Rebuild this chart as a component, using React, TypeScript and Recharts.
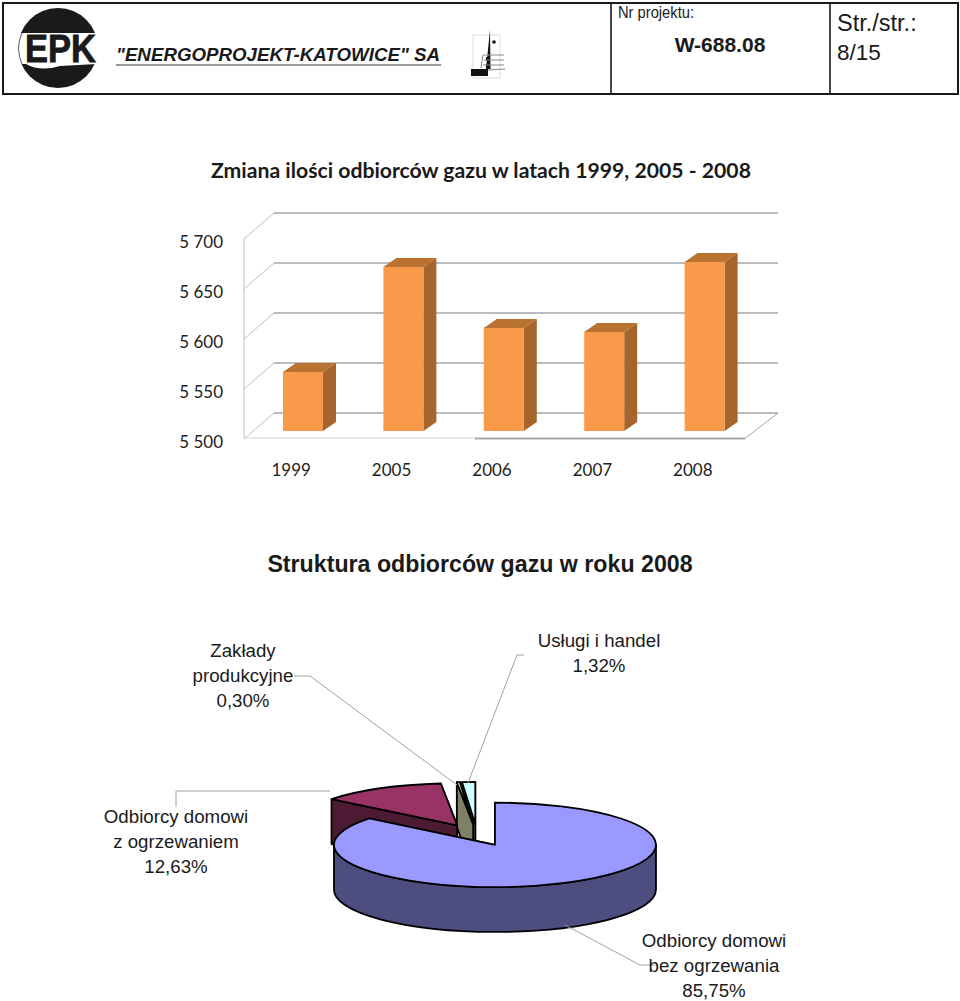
import React from 'react';
import { BarChart, Bar, XAxis, YAxis, CartesianGrid, PieChart, Pie } from 'recharts';

const years = ['1999', '2005', '2006', '2007', '2008'];
const customers = [5559, 5664, 5603, 5599, 5669];
const yTicks = [5500, 5550, 5600, 5650, 5700];

// Pie is drawn back to front, going counter-clockwise from 12 o'clock
const groupNames = [
  ['Usługi i handel'],
  ['Zakłady', 'produkcyjne'],
  ['Odbiorcy domowi', 'z ogrzewaniem'],
  ['Odbiorcy domowi', 'bez ogrzewania'],
];
const shares = [1.32, 0.3, 12.63, 85.75];

const barData = years.map((year, i) => ({ year, value: customers[i] }));
const pieData = groupNames.map((lines, i) => ({ lines, value: shares[i] }));

const topColors = ['#ccffff', '#ffffcc', '#993366', '#9999ff'];
const wallColors = ['#668080', '#808066', '#4d1a33', '#4d4d80'];

// label centre x, first baseline y and leader line, in chart coordinates
const PIE_TOP = 600;
const labelSpots = [
  { x: 599, y: 47, line: '524,55 517,55 468,183' },
  { x: 243, y: 57, line: '294,76 310,76 457,185' },
  { x: 176, y: 223, line: '176,207 176,191 330,191' },
  { x: 714, y: 347, line: '565,325 640,365 655,365' },
];

const TILT = 0.262;
const DEPTH = 45;
const EXPLODE = 41.5;
const rad = (deg: number) => (deg * Math.PI) / 180;

const Slice3D = (props: any) => {
  const { cx, cy, outerRadius: r, startAngle, endAngle, index } = props;
  const mid = (startAngle + endAngle) / 2;
  const ax = cx + EXPLODE * Math.cos(rad(mid));
  const ay = cy - TILT * EXPLODE * Math.sin(rad(mid));
  const ry = r * TILT;
  const pt = (a: number) => [ax + r * Math.cos(rad(a)), ay - ry * Math.sin(rad(a))];
  const sp = pt(startAngle);
  const ep = pt(endAngle);
  const large = endAngle - startAngle > 180 ? 1 : 0;
  const wall = wallColors[index];
  const radial = (p: number[]) =>
    `M${ax},${ay} L${p[0]},${p[1]} L${p[0]},${p[1] + DEPTH} L${ax},${ay + DEPTH} Z`;

  // outer wall only where the rim faces the viewer
  const from = Math.max(startAngle, 180);
  const to = Math.min(endAngle, 360);
  let rim = null;
  if (to > from) {
    const a = pt(from);
    const b = pt(to);
    rim = `M${a[0]},${a[1]} A${r},${ry} 0 0 0 ${b[0]},${b[1]} L${b[0]},${b[1] + DEPTH} A${r},${ry} 0 0 1 ${a[0]},${a[1] + DEPTH} Z`;
  }

  return (
    <g stroke="#000" strokeWidth={1.8} strokeLinejoin="round">
      <path d={radial(sp)} fill={wall} />
      <path d={radial(ep)} fill={wall} />
      {rim && <path d={rim} fill={wall} />}
      <path
        d={`M${ax},${ay} L${sp[0]},${sp[1]} A${r},${ry} 0 ${large} 0 ${ep[0]},${ep[1]} Z`}
        fill={topColors[index]}
      />
    </g>
  );
};

const PieLabel = (props: any) => {
  const { index } = props;
  const spot = labelSpots[index];
  const rows = [...groupNames[index], shares[index].toFixed(2).replace('.', ',') + '%'];
  return (
    <g>
      <polyline points={spot.line} fill="none" stroke="#a0a0a0" strokeWidth={1} />
      {rows.map((row, i) => (
        <text
          key={row}
          x={spot.x}
          y={spot.y + i * 24.8}
          textAnchor="middle"
          fontFamily="'Liberation Sans', sans-serif"
          fontSize={18.7}
          fill="#1a1a1a"
        >
          {row}
        </text>
      ))}
    </g>
  );
};

const Bar3D = (props: any) => {
  const { x, y, width, height } = props;
  const l = x + 12;
  const t = y - 9;
  const r = l + width;
  const b = t + height;
  const dx = 13;
  const dy = 9;
  return (
    <g>
      <path d={`M${r},${t} L${r + dx},${t - dy} L${r + dx},${b - dy} L${r},${b} Z`} fill="#a5652d" />
      <path d={`M${l},${t} L${l + dx},${t - dy} L${r + dx},${t - dy} L${r},${t} Z`} fill="#b9722f" />
      <rect x={l} y={t} width={width} height={height} fill="#f9994a" />
    </g>
  );
};

// Grid sits on the back wall, with a diagonal running out to the side wall
const WallLine = (props: any) => {
  const { y1, index } = props;
  const left = 244;
  const y = y1 - 1;
  return (
    <g key={index} stroke="#a6a6a6" fill="none">
      <line x1={left} y1={y} x2={left + 30} y2={y - 26} stroke="#bdbdbd" strokeWidth={1} />
      <line x1={left + 30} y1={y - 26} x2={778} y2={y - 26} strokeWidth={y < 280 ? 1.6 : 2.4} />
    </g>
  );
};

const Frame3D = () => (
  <svg width={960} height={500} style={{ position: 'absolute', left: 0, top: 0 }}>
    <line x1={244} y1={239} x2={244} y2={438} stroke="#bdbdbd" strokeWidth={1} />
    <line x1={244} y1={438} x2={475} y2={438} stroke="#d4d4d4" strokeWidth={1} />
    <line x1={475} y1={438.5} x2={745} y2={438.5} stroke="#a6a6a6" strokeWidth={1.8} />
    <line x1={745} y1={438.5} x2={778} y2={413} stroke="#a6a6a6" strokeWidth={1} />
  </svg>
);

const Logo = () => (
  <svg width={960} height={100} style={{ position: 'absolute', left: 0, top: 0 }}>
    <rect x={3} y={3} width={955} height={91} fill="none" stroke="#1a1a1a" strokeWidth={2} />
    <line x1={611} y1={3} x2={611} y2={94} stroke="#1a1a1a" strokeWidth={1.6} />
    <line x1={830} y1={3} x2={830} y2={94} stroke="#1a1a1a" strokeWidth={1.6} />

    <circle cx={58} cy={48} r={40} fill="#1a1a1a" />
    <rect x={17} y={33} width={83} height={31} fill="#fff" />
    <path d="M26,64 Q40,72 60,66 L97,64 L97,60 L26,60 Z" fill="#fff" />
    <path d="M22,33 A38,38 0 0 0 22,64" fill="none" stroke="#555" strokeWidth={1} />
    <text x={25} y={62} fontFamily="'Liberation Sans', sans-serif" fontWeight={700} fontSize={38} textLength={71} lengthAdjust="spacingAndGlyphs" fill="#1a1a1a" stroke="#1a1a1a" strokeWidth={0.8}>
      EPK
    </text>

    <text x={116} y={61} fontFamily="'Liberation Sans', sans-serif" fontWeight={700} fontStyle="italic" fontSize={19} textLength={324} lengthAdjust="spacingAndGlyphs" fill="#1a1a1a">
      "ENERGOPROJEKT-KATOWICE" SA
    </text>
    <line x1={116} y1={65} x2={441} y2={65} stroke="#777" strokeWidth={1.5} />

    <rect x={473} y={35} width={27} height={43} fill="none" stroke="#ddd" strokeWidth={1} />
    <path d="M490,30 L490.5,69 L486,69 Z" fill="#111" />
    <circle cx={494} cy={42} r={1.8} fill="#111" />
    <rect x={471} y={69} width={17} height={7} fill="#111" />
    <rect x={486} y={57} width={4} height={4} fill="#111" />
    <rect x={486} y={64} width={4} height={4} fill="#111" />
    <path d="M481,68 L483,55 L504,55 M484,60 L504,60 M483,65 L504,65 M488,70 L505,69" fill="none" stroke="#888" strokeWidth={1} />

    <text x={618} y={18} fontFamily="'Liberation Sans', sans-serif" fontSize={16} textLength={76} lengthAdjust="spacingAndGlyphs" fill="#1a1a1a">Nr projektu:</text>
    <text x={720} y={52} textAnchor="middle" fontFamily="'Liberation Sans', sans-serif" fontWeight={700} fontSize={21} fill="#1a1a1a">W-688.08</text>
    <text x={837} y={31} fontFamily="'Liberation Sans', sans-serif" fontSize={23.5} fill="#1a1a1a">Str./str.:</text>
    <text x={837} y={60} fontFamily="'Liberation Sans', sans-serif" fontSize={22.5} fill="#1a1a1a">8/15</text>
  </svg>
);

const title = (text: string, top: number, style: React.CSSProperties) => (
  <div style={{ position: 'absolute', left: 0, top, width: 960, textAlign: 'center', color: '#1a1a1a', whiteSpace: 'nowrap', ...style }}>
    {text}
  </div>
);

export default function App() {
  return (
    <div style={{ position: 'absolute', left: 0, top: 0, width: 960, height: 1001, background: '#fff', overflow: 'hidden' }}>
      <Logo />
      {title('Zmiana ilości odbiorców gazu w latach 1999, 2005 - 2008', 157, {
        fontFamily: 'Lato, sans-serif',
        fontWeight: 700,
        fontSize: 21.2,
        lineHeight: '26px',
        left: 1,
      })}
      <Frame3D />
      <div style={{ position: 'absolute', left: 0, top: 200 }}>
        <BarChart
          width={960}
          height={300}
          data={barData}
          margin={{ top: 40, right: 217, bottom: 30, left: 191 }}
          barSize={40}
        >
          <CartesianGrid vertical={false} horizontal={WallLine} />
          <XAxis
            dataKey="year"
            height={30}
            axisLine={false}
            tickLine={false}
            tickMargin={18}
            tick={{ fill: '#222', fontSize: 17, fontFamily: 'Lato, sans-serif' }}
          />
          <YAxis
            width={50}
            domain={[5500, 5700]}
            ticks={yTicks}
            axisLine={false}
            tickLine={false}
            tickMargin={12}
            tickFormatter={(v: number) => `${Math.floor(v / 1000)} ${String(v % 1000).padStart(3, '0')}`}
            tick={{ fill: '#222', fontSize: 17, fontFamily: 'Lato, sans-serif', dy: 2 }}
          />
          <Bar dataKey="value" shape={Bar3D} isAnimationActive={false} />
        </BarChart>
      </div>
      {title('Struktura odbiorców gazu w roku 2008', 551, {
        fontFamily: "'Liberation Sans', sans-serif",
        fontWeight: 700,
        fontSize: 23.2,
        lineHeight: '26px',
      })}
      <div style={{ position: 'absolute', left: 0, top: PIE_TOP }}>
        <PieChart width={960} height={401} margin={{ top: 0, right: 0, bottom: 0, left: 0 }}>
          <Pie
            data={pieData}
            dataKey="value"
            cx={477}
            cy={235}
            outerRadius={161}
            startAngle={90}
            endAngle={450}
            shape={Slice3D}
            label={PieLabel}
            labelLine={false}
            isAnimationActive={false}
          />
        </PieChart>
      </div>
    </div>
  );
}
